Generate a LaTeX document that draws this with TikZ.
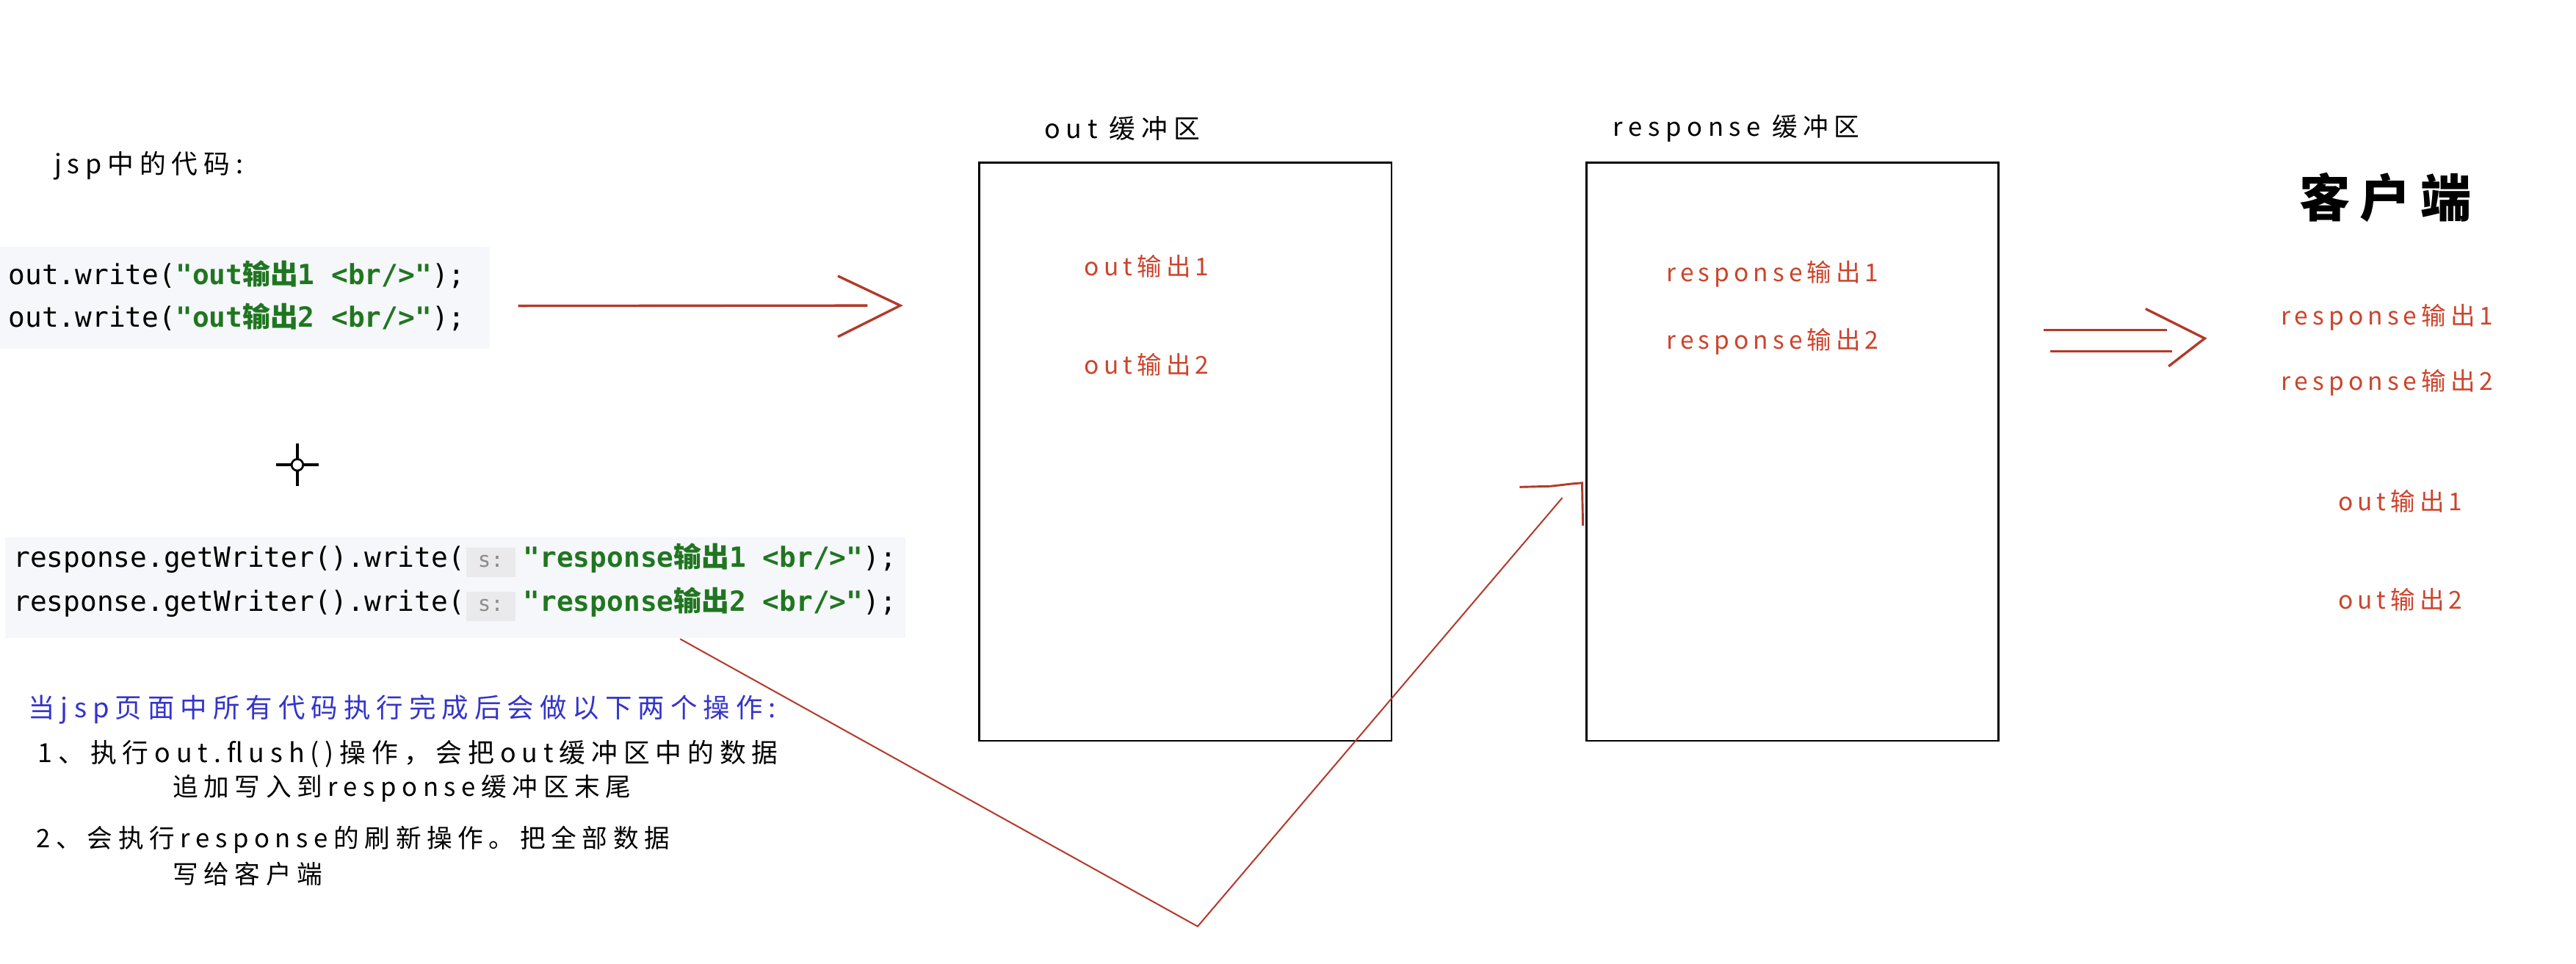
\documentclass[tikz,border=0pt]{standalone}
\usepackage{fontspec}
\setmainfont{Liberation Sans}
\newfontfamily\cjk{Noto Sans CJK SC}
\newfontfamily\cjksp[LetterSpace=22]{Noto Sans CJK SC}
\newfontfamily\redsp[LetterSpace=18]{Noto Sans CJK SC}
\newfontfamily\code[Ligatures=TeXOff]{DejaVu Sans Mono}
\usetikzlibrary{calc}
\definecolor{arrowred}{RGB}{178,58,42}
\definecolor{txtred}{RGB}{204,68,44}
\definecolor{strgreen}{RGB}{32,118,32}
\definecolor{headblue}{RGB}{52,52,204}
\definecolor{codebg}{RGB}{245,247,250}
\definecolor{hintbg}{RGB}{234,234,236}
\definecolor{hintfg}{RGB}{140,140,140}
\newcommand\paramhint[1]{{\setlength\fboxsep{2pt}\colorbox{hintbg}{\rule[-4pt]{0pt}{14pt}\hspace{5pt}\color{hintfg}\fontsize{13}{13}\selectfont\code #1\hspace{5pt}}}}
\begin{document}
\begin{tikzpicture}[x=1pt,y=-1pt,
  note/.style={font=\cjksp\fontsize{15.5}{18}\selectfont, inner sep=0, anchor=west},
  redtxt/.style={font=\redsp\fontsize{15}{18}\selectfont, text=txtred, inner sep=0},
  codetxt/.style={font=\code\fontsize{16.9}{20}\selectfont, inner sep=0, anchor=west},
  bufbox/.style={draw=black, line width=1.3pt, inner sep=0, minimum width=251pt, minimum height=352pt},
  flow/.style={draw=arrowred, line width=1.5pt},
  thinflow/.style={draw=arrowred, line width=0.9pt},
  codeblock/.style={fill=codebg, draw=none, inner sep=0}]
\useasboundingbox (0,0) rectangle (1568,586.5);
\fill[white] (0,0) rectangle (1568,586.5);

% left: jsp code
\node[note, font=\cjksp\fontsize{16}{18}\selectfont] (jsplabel) at (33,101) {jsp中的代码:};
\node[codeblock, minimum width=298pt, minimum height=62pt, anchor=north west] (code1bg) at (0,150) {};
\node[codetxt] (code1a) at (5,167) {out.write(\textcolor{strgreen}{\bfseries "out{\cjk\bfseries 输出}1 <br/>"});};
\node[codetxt] (code1b) at (5,193) {out.write(\textcolor{strgreen}{\bfseries "out{\cjk\bfseries 输出}2 <br/>"});};

\node[codeblock, minimum width=548pt, minimum height=61pt, anchor=north west] (code2bg) at (3,327) {};
\node[codetxt] (code2a) at (8,341) {response.getWriter().write(\hspace{1pt}\paramhint{s:}\hspace{5pt}\textcolor{strgreen}{\bfseries "response{\cjk\bfseries 输出}1 <br/>"});};
\node[codetxt] (code2b) at (8,368) {response.getWriter().write(\hspace{1pt}\paramhint{s:}\hspace{5pt}\textcolor{strgreen}{\bfseries "response{\cjk\bfseries 输出}2 <br/>"});};

% cursor
\coordinate (cursor) at (181,283);
\draw[line width=1.5pt] ($(cursor)+(-13,0)$) -- ($(cursor)+(13,0)$) ($(cursor)+(0,-13)$) -- ($(cursor)+(0,13)$);
\draw[line width=1.2pt, fill=white] (cursor) circle[radius=3.5pt];

% notes
\node[note, text=headblue, font=\cjksp\fontsize{16.3}{18}\selectfont] (head) at (17,432) {当jsp页面中所有代码执行完成后会做以下两个操作:};
\node[note, font=\cjksp\fontsize{16}{18}\selectfont] (step1a) at (23,459) {1、执行out.flush()操作，会把out缓冲区中的数据};
\node[note] (step1b) at (105,480) {追加写入到response缓冲区末尾};
\node[note] (step2a) at (22,511) {2、会执行response的刷新操作。把全部数据};
\node[note] (step2b) at (105,532) {写给客户端};

% buffers
\node[bufbox] (outbuf) at (721.5,275) {};
\node[note, anchor=center, font=\cjksp\fontsize{16}{18}\selectfont] (outlabel) at (683,78) {out 缓冲区};
\node[redtxt] (out1) at (698,162) {out输出1};
\node[redtxt] (out2) at (698,222) {out输出2};

\node[bufbox] (respbuf) at (1091,275) {};
\node[note, anchor=center] (resplabel) at (1057,78) {response 缓冲区};
\node[redtxt] (resp1) at (1079,167) {response输出1};
\node[redtxt] (resp2) at (1079,208) {response输出2};

% client
\node[inner sep=0, font=\cjk\bfseries\fontsize{31}{33}\selectfont] (client) at (1452,120) {客\hspace{6pt}户\hspace{6pt}端};
\node[redtxt] (c1) at (1453,193) {response输出1};
\node[redtxt] (c2) at (1453,233) {response输出2};
\node[redtxt] (c3) at (1461,305) {out输出1};
\node[redtxt] (c4) at (1461,365) {out输出2};

% arrow code -> out buffer
\coordinate (a1s) at ($(code1bg.east)+(17,5)$);
\coordinate (a1e) at (528,186);
\coordinate (a1tip) at (548,186);
\draw[flow] (a1s) -- (a1e);
\draw[flow] (510,168) -- (a1tip) -- (510,205);

% response code -> response buffer
\coordinate (p0) at (414,389);
\coordinate (p1) at (729,564);
\coordinate (p2) at (951,303);
\coordinate (ptip) at (963,294);
\draw[thinflow] (p0) -- (p1) -- (p2);
\draw[flow, line width=1.3pt] (925,296.5) -- (944,296) -- (957,294.5) -- (ptip) -- (963.5,320);

% double arrow to client
\coordinate (d1s) at (1244,201);
\coordinate (d1e) at (1319,201);
\coordinate (d2s) at (1248,214);
\coordinate (d2e) at (1322,214);
\coordinate (dtip) at (1342,206);
\draw[flow] (d1s) -- (d1e);
\draw[flow] (d2s) -- (d2e);
\draw[flow] (1306,188) -- (dtip) -- (1320,223);
\end{tikzpicture}
\end{document}
